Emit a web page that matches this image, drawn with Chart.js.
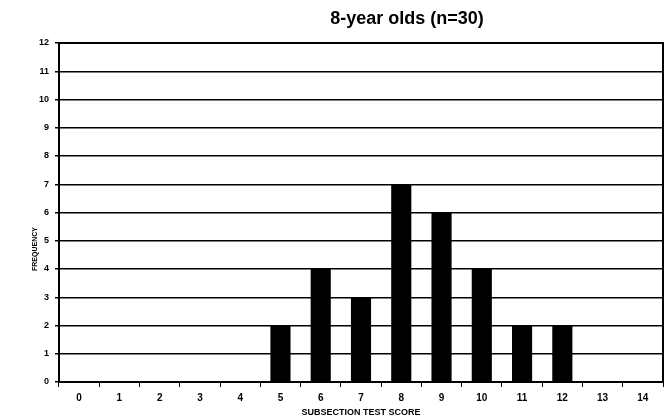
<!DOCTYPE html>
<html>
<head>
<meta charset="utf-8">
<script src="https://cdn.jsdelivr.net/npm/chart.js@4"></script>
<style>
  html, body { margin: 0; padding: 0; background: #fff; }
  #wrap { width: 667px; height: 418px; position: relative; }
</style>
</head>
<body>
<div id="wrap"><canvas id="scoreChart"></canvas></div>
<script>
const chartTitle = '8-year olds (n=30)';
const yTitle = 'FREQUENCY';
const xTitle = 'SUBSECTION TEST SCORE';
const scores = ['0', '1', '2', '3', '4', '5', '6', '7', '8', '9', '10', '11', '12', '13', '14'];
const frequency = [0, 0, 0, 0, 0, 2, 4, 3, 7, 6, 4, 2, 2, 0, 0];
const yTicks = [0, 1, 2, 3, 4, 5, 6, 7, 8, 9, 10, 11, 12];

const fontFamily = "'Liberation Sans', Arial, sans-serif";

// frame round the plot area, chart title and the y title (sits off-centre in the original)
const framePlugin = {
    id: 'frame',
    afterDraw(chart) {
        const { ctx, chartArea } = chart;
        ctx.save();
        ctx.strokeStyle = '#000';
        ctx.lineWidth = 2;
        ctx.beginPath();
        ctx.moveTo(chartArea.left, chartArea.top);
        ctx.lineTo(chartArea.right, chartArea.top);
        ctx.lineTo(chartArea.right, chartArea.bottom);
        ctx.stroke();
        ctx.fillStyle = '#000';
        ctx.font = 'bold 18px ' + fontFamily;
        ctx.textAlign = 'center';
        ctx.textBaseline = 'middle';
        ctx.fillText(chartTitle, 407, 19);
        ctx.translate(35, 249);
        ctx.rotate(-Math.PI / 2);
        ctx.font = 'bold 7px ' + fontFamily;
        ctx.fillText(yTitle, 0, 0);
        ctx.restore();
    }
};

const ctx = document.getElementById('scoreChart').getContext('2d');
const scoreChart = new Chart(ctx, {
    type: 'bar',
    data: {
        labels: scores,
        datasets: [{
            label: 'Frequency',
            data: frequency,
            backgroundColor: '#000',
            borderWidth: 0,
            categoryPercentage: 1,
            barPercentage: 0.5
        }]
    },
    options: {
        responsive: true,
        maintainAspectRatio: false,
        animation: false,
        layout: {
            padding: { top: 43, right: 4, left: 0, bottom: 0 }
        },
        plugins: {
            legend: { display: false },
            tooltip: { enabled: false }
        },
        scales: {
            x: {
                offset: true,
                grid: {
                    offset: true,
                    drawOnChartArea: false,
                    drawTicks: true,
                    tickLength: 5,
                    color: '#000',
                    lineWidth: 1
                },
                border: { color: '#000', width: 2 },
                ticks: {
                    color: '#000',
                    padding: 5,
                    font: { family: fontFamily, size: 10, weight: 'bold' }
                },
                title: {
                    display: true,
                    text: xTitle,
                    color: '#000',
                    padding: { top: 0, bottom: 0 },
                    font: { family: fontFamily, size: 9, weight: 'bold' }
                },
                afterFit(scale) { scale.height = 36; }
            },
            y: {
                min: 0,
                max: 12,
                afterBuildTicks(scale) {
                    scale.ticks = yTicks.map(v => ({ value: v }));
                },
                grid: {
                    color: '#000',
                    lineWidth: 1.5,
                    drawTicks: true,
                    tickLength: 4
                },
                border: { color: '#000', width: 2 },
                ticks: {
                    color: '#000',
                    padding: 6,
                    font: { family: fontFamily, size: 9, weight: 'bold' }
                },
                afterFit(scale) { scale.width = 59; }
            }
        }
    },
    plugins: [framePlugin]
});
</script>
</body>
</html>
